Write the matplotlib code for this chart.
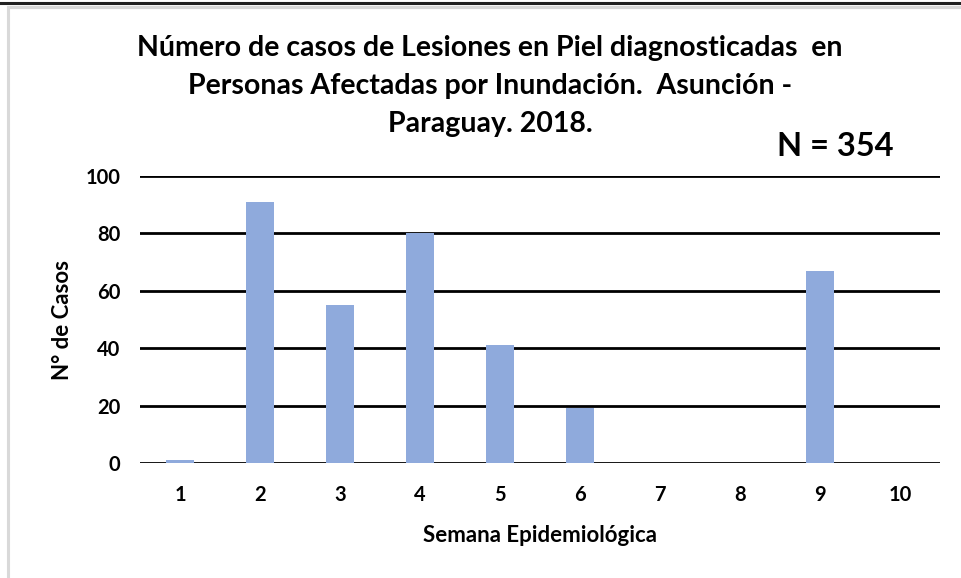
import matplotlib
matplotlib.use("Agg")
import matplotlib.pyplot as plt
from matplotlib.lines import Line2D
from matplotlib.patches import Rectangle

weeks = ["1", "2", "3", "4", "5", "6", "7", "8", "9", "10"]
cases = [1, 91, 55, 80, 41, 19, 0, 0, 67, 0]
yticks = [0, 20, 40, 60, 80, 100]

title_lines = [
    "Número de casos de Lesiones en Piel diagnosticadas  en",
    "Personas Afectadas por Inundación.  Asunción -",
    "Paraguay. 2018.",
]

FONT = ["Lato", "DejaVu Sans"]
plt.rcParams['font.family'] = FONT
plt.rcParams['font.weight'] = 'bold'

W, H = 961, 578
fig = plt.figure(figsize=(W / 100, H / 100), dpi=100)
fig.patch.set_facecolor("white")

# outer frame
fig.add_artist(Line2D([0, 1], [1 - 2.5 / H, 1 - 2.5 / H], color="#222222", lw=2.2,
                      transform=fig.transFigure))
fig.add_artist(Rectangle((8 / W, -0.05), 1.2, 1 - 7 / H + 0.05, fill=False,
                         edgecolor="#d9d9d9", lw=2.2, transform=fig.transFigure))

ax = fig.add_axes([140 / W, 1 - 463 / H, 800 / W, 287 / H])
x = list(range(1, len(weeks) + 1))
ax.bar(x, cases, width=0.34, color="#8faadc", zorder=3)
ax.set_xlim(0.5, 10.5)
ax.set_ylim(0, 100)
ax.set_yticks(yticks)
ax.set_xticks(x)
ax.set_xticklabels(weeks)
ax.yaxis.grid(True, color="black", lw=2.0, zorder=1)
ax.set_axisbelow(True)
for s in ax.spines.values():
    s.set_visible(False)
ax.tick_params(axis="both", length=0, labelsize=14.5)
ax.tick_params(axis="x", pad=16)
ax.tick_params(axis="y", pad=14)
for lab in ax.get_xticklabels() + ax.get_yticklabels():
    lab.set_fontweight("bold")

ax.set_xlabel("Semana Epidemiológica", fontsize=16, fontweight="bold", labelpad=14)
ax.set_ylabel("N° de Casos", fontsize=16, fontweight="bold", labelpad=9)

ys = [48, 86, 124]
for t, yy in zip(title_lines, ys):
    fig.text(490 / W, 1 - yy / H, t, ha="center", va="center", fontsize=20.5,
             fontweight="bold")

fig.text(835 / W, 1 - 146 / H, "N = 354", ha="center", va="center", fontsize=23.5,
         fontweight="bold")

fig.savefig("out.png", dpi=100, facecolor="white")
